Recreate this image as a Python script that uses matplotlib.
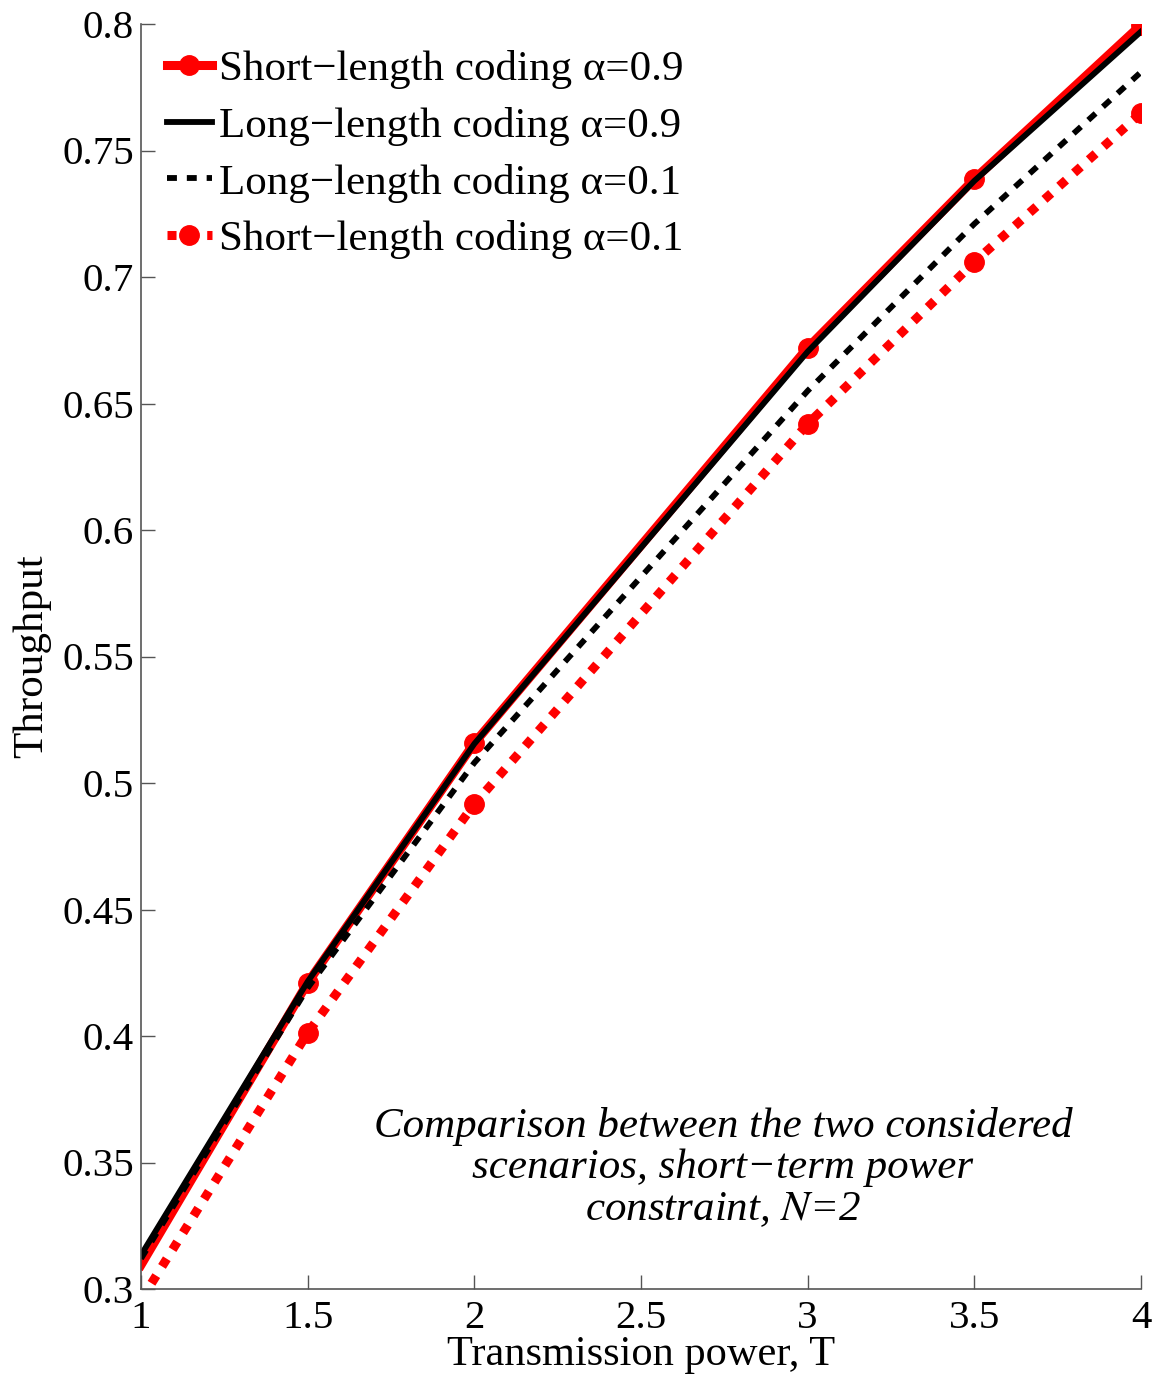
import matplotlib
matplotlib.use("Agg")
import matplotlib.pyplot as plt

plt.rcParams["font.family"] = ["Liberation Serif", "DejaVu Serif"]
plt.rcParams["mathtext.fontset"] = "stix"

power = [1, 1.5, 2, 3, 3.5, 4]
short_a09 = [0.3095, 0.421, 0.5158, 0.672, 0.7387, 0.7996]
long_a09 = [0.3134, 0.4215, 0.5155, 0.6705, 0.738, 0.797]
long_a01 = [0.312, 0.419, 0.508, 0.655, 0.721, 0.781]
short_a01 = [0.2956, 0.4012, 0.4917, 0.6419, 0.7059, 0.7648]

xticks = [1, 1.5, 2, 2.5, 3, 3.5, 4]
yticks = [0.3, 0.35, 0.4, 0.45, 0.5, 0.55, 0.6, 0.65, 0.7, 0.75, 0.8]


def main():
    fig = plt.figure(figsize=(11.58, 13.79), dpi=100)
    ax = fig.add_axes([141 / 1158, 1 - 1289 / 1379, 1000 / 1158, 1265 / 1379])

    # markers are drawn from 1.5 onwards only
    marks = list(range(1, len(power)))
    ax.plot(power, short_a09, color="red", lw=6.5, marker="o", ms=14,
            markevery=marks, label="Short\u2212length coding \u03b1=0.9")
    ax.plot(power, long_a09, color="black", lw=4.2,
            label="Long\u2212length coding \u03b1=0.9")
    ax.plot(power, long_a01, color="black", lw=4.2, linestyle=(0, (1.7, 1.7)),
            label="Long\u2212length coding \u03b1=0.1")
    ax.plot(power, short_a01, color="red", lw=6.5, linestyle=(0, (1, 1.2)),
            marker="o", ms=14, markevery=marks,
            label="Short\u2212length coding \u03b1=0.1")

    ax.set_xlim(1, 4)
    ax.set_ylim(0.3, 0.8)
    ax.set_xticks(xticks)
    ax.set_xticklabels(["%g" % t for t in xticks])
    ax.set_yticks(yticks)
    ax.set_yticklabels(["%g" % t for t in yticks])
    ax.tick_params(direction="in", length=10, width=1, labelsize=29.5,
                   color="#555555")
    ax.tick_params(axis="x", pad=8)
    ax.tick_params(axis="y", pad=5)
    for side in ["top", "right"]:
        ax.spines[side].set_visible(False)
    for side in ["left", "bottom"]:
        ax.spines[side].set_color("#555555")
        ax.spines[side].set_linewidth(1.2)

    ax.set_xlabel("Transmission power, T", fontsize=30.5, labelpad=-1.5)
    ax.set_ylabel("Throughput", fontsize=31, labelpad=8)

    ax.text(2.746, 0.3478,
            "Comparison between the two considered\n"
            "scenarios, short\u2212term power\n"
            "constraint, $N$=2",
            fontsize=31, style="italic", ha="center", va="center",
            linespacing=1.1)

    ax.legend(loc="upper left", frameon=False, fontsize=31, handlelength=1.05,
              handletextpad=0.16, borderaxespad=0.4, labelspacing=0.41,
              borderpad=0.2)

    fig.savefig("out.png", dpi=100)


if __name__ == "__main__":
    main()
